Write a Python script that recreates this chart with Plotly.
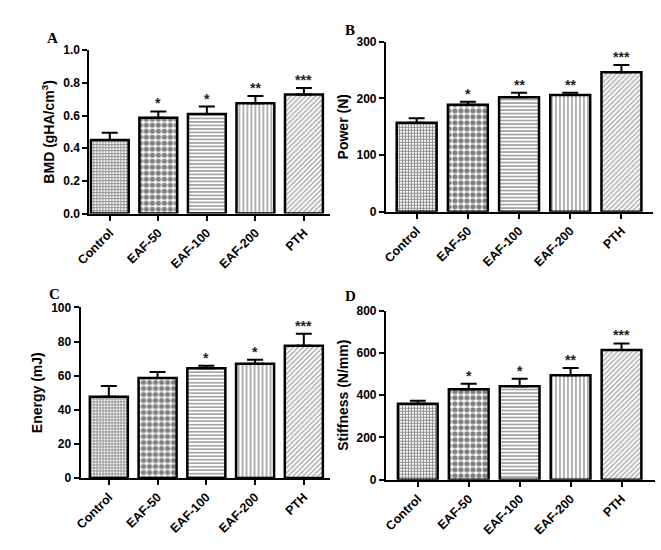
import plotly.graph_objects as go

categories = ["Control", "EAF-50", "EAF-100", "EAF-200", "PTH"]

bmd_mean = [0.450, 0.587, 0.609, 0.675, 0.728]
bmd_err = [0.044, 0.038, 0.046, 0.045, 0.040]
bmd_stars = ["", "*", "*", "**", "***"]

power_mean = [157, 189, 202, 206, 246]
power_err = [8, 5, 8, 4, 13]
power_stars = ["", "*", "**", "**", "***"]

energy_mean = [47.6, 58.6, 64.3, 67.0, 77.5]
energy_err = [6.3, 3.6, 1.5, 2.3, 7.1]
energy_stars = ["", "", "*", "*", "***"]

stiff_mean = [360, 428, 443, 494, 614]
stiff_err = [14, 26, 35, 35, 31]
stiff_stars = ["", "*", "*", "**", "***"]

patterns = [
    dict(shape="+", size=3, solidity=0.6, fgcolor="#222", bgcolor="white"),
    dict(shape=".", size=6, solidity=0.6, fgcolor="black", bgcolor="white"),
    dict(shape="-", size=3.5, solidity=0.35, fgcolor="black", bgcolor="white"),
    dict(shape="|", size=4, solidity=0.3, fgcolor="black", bgcolor="white"),
    dict(shape="/", size=3.5, solidity=0.35, fgcolor="#333", bgcolor="white"),
]

panels = [
    dict(mean=bmd_mean, err=bmd_err, stars=bmd_stars, title="BMD (gHA/cm<sup>3</sup>)",
         yrange=[0, 1.0], dtick=0.2, fmt=".1f",
         xdom=[77/661, 323/661], ydom=[(550-212)/550, (550-44.3)/550], xrange=[-0.42, 4.54],
         letter="A", lx=39, ly=32),
    dict(mean=power_mean, err=power_err, stars=power_stars, title="Power (N)",
         yrange=[0, 300], dtick=100, fmt="d",
         xdom=[380/661, 653/661], ydom=[(550-210)/550, (550-35.7)/550], xrange=[-0.6, 4.62],
         letter="B", lx=343, ly=24),
    dict(mean=energy_mean, err=energy_err, stars=energy_stars, title="Energy (mJ)",
         yrange=[0, 100], dtick=20, fmt="d",
         xdom=[68/661, 323/661], ydom=[(550-483.3)/550, (550-308.3)/550], xrange=[-0.58, 4.54],
         letter="C", lx=41, ly=295),
    dict(mean=stiff_mean, err=stiff_err, stars=stiff_stars, title="Stiffness (N/mm)",
         yrange=[0, 800], dtick=200, fmt="d",
         xdom=[380/661, 655/661], ydom=[(550-485)/550, (550-311.7)/550], xrange=[-0.625, 4.66],
         letter="D", lx=344, ly=297),
]

fig = go.Figure()
xtickfont = dict(family="Liberation Sans", size=12.5, color="black", weight="bold")
ytickfont = dict(family="Liberation Sans", size=12, color="black", weight="bold")

for i, p in enumerate(panels):
    n = "" if i == 0 else str(i + 1)
    xa, ya = "x" + n, "y" + n
    for j, cat in enumerate(categories):
        fig.add_trace(go.Bar(
            x=[j], y=[p["mean"][j]], xaxis=xa, yaxis=ya, width=0.78,
            marker=dict(color="white", line=dict(color="black", width=2.5),
                        pattern=patterns[j]),
            error_y=dict(type="data", symmetric=False, array=[p["err"][j]], arrayminus=[0],
                         color="black", thickness=2, width=8),
            showlegend=False, hoverinfo="skip",
        ))
        if p["stars"][j]:
            fig.add_annotation(x=j, y=p["mean"][j] + p["err"][j], xref=xa, yref=ya,
                               text=p["stars"][j], showarrow=False, yanchor="bottom",
                               yshift=-2, font=dict(family="Liberation Sans", size=14, color="#222", weight="bold"))
    fig.layout["xaxis" + n] = dict(
        domain=p["xdom"], range=p["xrange"], anchor=ya,
        tickmode="array", tickvals=list(range(5)), ticktext=categories,
        tickangle=-45, ticks="outside", ticklen=5, tickwidth=2, tickcolor="black",
        showline=True, linecolor="black", linewidth=2, showgrid=False, zeroline=False,
        tickfont=xtickfont, fixedrange=True,
    )
    fig.layout["yaxis" + n] = dict(
        domain=p["ydom"], range=p["yrange"], anchor=xa, dtick=p["dtick"], tickformat=p["fmt"],
        ticks="outside", ticklen=5, tickwidth=2, tickcolor="black",
        showline=True, linecolor="black", linewidth=2, showgrid=False, zeroline=False,
        tickfont=ytickfont,
        title=dict(text=p["title"], font=dict(family="Liberation Sans", size=14, color="black", weight="bold"), standoff=5),
    )
    fig.add_annotation(x=p["lx"]/661, y=1 - p["ly"]/550, xref="paper", yref="paper",
                       text="<b>" + p["letter"] + "</b>", showarrow=False,
                       font=dict(family="Liberation Serif", size=15, color="black"),
                       xanchor="center", yanchor="middle")

fig.update_layout(
    width=661, height=550, margin=dict(l=0, r=0, t=0, b=0),
    paper_bgcolor="white", plot_bgcolor="white", barmode="overlay",
)
fig.write_html("out.html")
